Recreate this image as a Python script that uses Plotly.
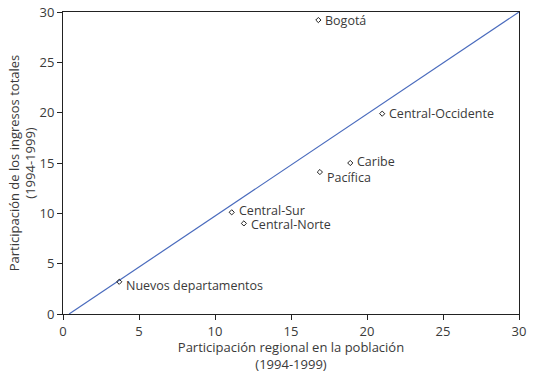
import plotly.graph_objects as go

regions = ["Bogotá", "Central-Occidente", "Caribe", "Pacífica", "Central-Sur", "Central-Norte", "Nuevos departamentos"]
poblacion = [16.8, 21.0, 18.9, 16.9, 11.1, 11.9, 3.7]
ingresos = [29.2, 19.9, 15.0, 14.1, 10.1, 9.0, 3.2]
line_x = [0.4, 30]
line_y = [0, 30]
ticks = [0, 5, 10, 15, 20, 25, 30]

label_dy = [0, 0, 2, -5, 2, -1, -4]

font = "Open Sans, Noto Sans, sans-serif"
fig = go.Figure()
fig.add_trace(go.Scatter(x=line_x, y=line_y, mode="lines",
                         line=dict(color="#4a6bbd", width=1.2), hoverinfo="skip"))
fig.add_trace(go.Scatter(x=poblacion, y=ingresos, mode="markers",
                         marker=dict(symbol="diamond-open", size=4, color="#222",
                                     line=dict(width=1, color="#222"))))
for r, xv, yv, dy in zip(regions, poblacion, ingresos, label_dy):
    fig.add_annotation(x=xv, y=yv, text=r, showarrow=False, xanchor="left",
                       yanchor="middle", xshift=6, yshift=dy, borderpad=0,
                       font=dict(family=font, size=12.5, color="#3a3a3a"))

axis_common = dict(range=[0, 30], tickvals=ticks, showgrid=False, zeroline=False,
                   showline=True, linecolor="#222", linewidth=1, mirror=True,
                   ticks="outside", ticklen=5, tickcolor="#222", automargin=False,
                   tickfont=dict(family=font, size=13, color="#3a3a3a"))
fig.update_xaxes(**axis_common,
                 title=dict(text="Participación regional en la población<br>(1994-1999)",
                            font=dict(family=font, size=13, color="#3a3a3a"), standoff=11))
fig.update_yaxes(**axis_common,
                 title=dict(text="Participación de los ingresos totales<br>(1994-1999)",
                            font=dict(family=font, size=13, color="#3a3a3a"), standoff=0))
fig.update_layout(width=536, height=373, margin=dict(l=63, r=17, t=12, b=59, autoexpand=False),
                  plot_bgcolor="white", paper_bgcolor="white", showlegend=False)
fig.write_html("out.html", config={"displayModeBar": False},
               post_script="document.body.style.margin='0';")
